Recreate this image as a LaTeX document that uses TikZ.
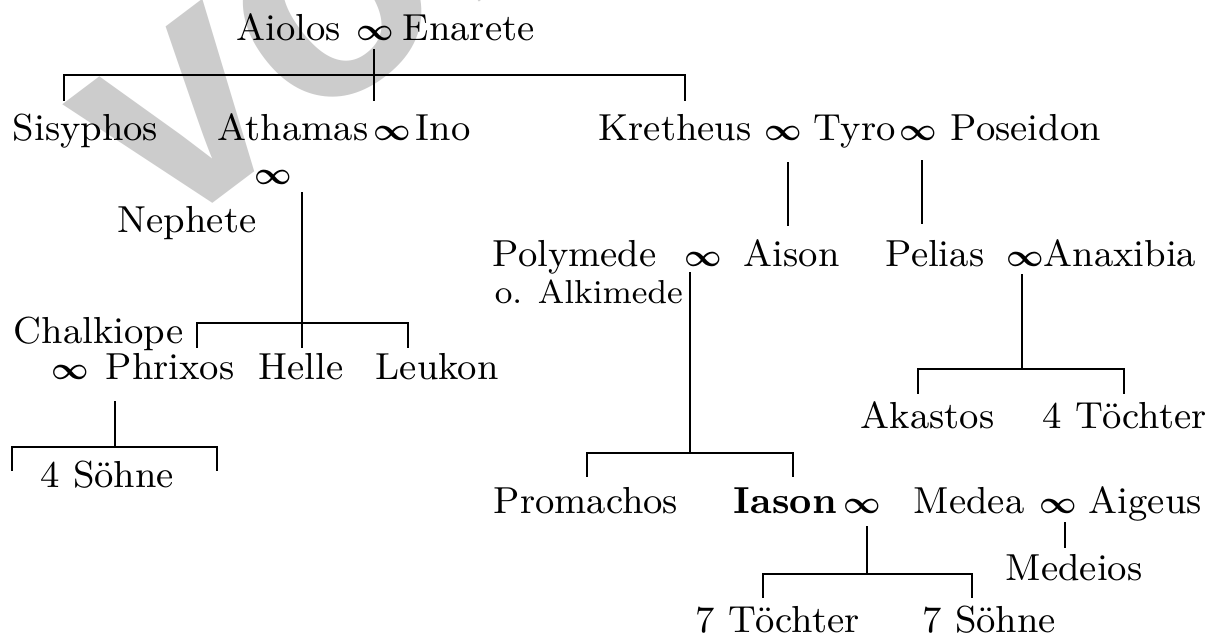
\documentclass[tikz,border=0pt]{standalone}
\usepackage{fontspec}
\newfontfamily\wmfont{Liberation Sans}
\newcommand\mainfs{\fontsize{9.4}{11}\selectfont}
\newcommand\smallfs{\fontsize{8.3}{10}\selectfont}
\newcommand\wedsign{\scalebox{0.88}{\boldmath$\infty$}}
\begin{document}
\begin{tikzpicture}[x=0.25pt,y=-0.25pt,
  person/.style={anchor=base west, inner sep=0pt, font=\mainfs},
  small/.style={anchor=base west, inner sep=0pt, font=\smallfs},
  wed/.style={anchor=base, inner sep=0pt, font=\mainfs},
  link/.style={line width=0.65pt, line cap=rect}]
\useasboundingbox (0,0) rectangle (1217,635);
\fill[white] (0,0) rectangle (1217,635);

% preview stamp in the background
\begin{scope}
  \clip (0,0) rectangle (1217,635);
  \node[anchor=base west, inner sep=0pt, rotate=37, text=black!20,
        font=\wmfont\bfseries\fontsize{80}{80}\selectfont] (stamp) at (163,241) {vorschau};
\end{scope}

% --- names ---
\node[person] (aiolos)   at (236,40) {Aiolos};
\node[wed]    (w1)       at (375,40) {\wedsign};
\node[person] (enarete)  at (402,40) {Enarete};

\node[person] (sisyphos) at (12,140)  {Sisyphos};
\node[person] (athamas)  at (217,140) {Athamas};
\node[wed]    (w2)       at (392,140) {\wedsign};
\node[person] (ino)      at (415,140) {Ino};
\node[person] (kretheus) at (598,140) {Kretheus};
\node[wed]    (w3)       at (783,140) {\wedsign};
\node[person] (tyro)     at (813,140) {Tyro};
\node[wed]    (w4)       at (918,140) {\wedsign};
\node[person] (poseidon) at (950,140) {Poseidon};

\node[wed]    (w5)       at (273,184) {\wedsign};
\node[person] (nephete)  at (117,232) {Nephete};

\node[person] (chalkiope) at (13,343) {Chalkiope};
\node[wed]    (w6)        at (70,379) {\wedsign};
\node[person] (phrixos)   at (105,379) {Phrixos};
\node[person] (helle)     at (258,379) {Helle};
\node[person] (leukon)    at (375,379) {Leukon};
\node[person] (soehneA)   at (40,487)  {4 Söhne};

\node[person] (polymede)  at (492,266)  {Polymede};
\node[wed]    (w7)        at (703,266)  {\wedsign};
\node[person] (aison)     at (743,266)  {Aison};
\node[small]  (alkimede)  at (494,303)  {o. Alkimede};
\node[person] (pelias)    at (885,266)  {Pelias};
\node[wed]    (w8)        at (1025,266) {\wedsign};
\node[person] (anaxibia)  at (1043,266) {Anaxibia};

\node[person] (akastos)   at (860,428)  {Akastos};
\node[person] (toechterA) at (1042,428) {4 Töchter};

\node[person] (promachos) at (493,513)  {Promachos};
\node[person] (iason)     at (733,513)  {\bfseries Iason};
\node[wed]    (w9)        at (862,513)  {\wedsign};
\node[person] (medea)     at (913,513)  {Medea};
\node[wed]    (w10)       at (1058,513) {\wedsign};
\node[person] (aigeus)    at (1088,513) {Aigeus};
\node[person] (medeios)   at (1005,580) {Medeios};

\node[person] (toechterB) at (695,632) {7 Töchter};
\node[person] (soehneB)   at (922,632) {7 Söhne};

% --- descent lines ---
% Aiolos and Enarete
\coordinate (a1) at (374,50);  \coordinate (a2) at (374,100);
\coordinate (a3) at (64,100);  \coordinate (a4) at (64,75);
\coordinate (a5) at (685,75);  \coordinate (a6) at (685,100);
\draw[link] (a1) -- (a2);
\draw[link] (a3) -- (a4) -- (a5) -- (a6);

% Athamas and Nephete
\coordinate (b1) at (302,193); \coordinate (b2) at (302,347);
\coordinate (b3) at (197,347); \coordinate (b4) at (197,323);
\coordinate (b5) at (408,323); \coordinate (b6) at (408,347);
\draw[link] (b1) -- (b2);
\draw[link] (b3) -- (b4) -- (b5) -- (b6);

% Chalkiope and Phrixos
\coordinate (c1) at (115,402); \coordinate (c2) at (115,447);
\coordinate (c3) at (12,470);  \coordinate (c4) at (12,447);
\coordinate (c5) at (217,447); \coordinate (c6) at (217,470);
\draw[link] (c1) -- (c2);
\draw[link] (c3) -- (c4) -- (c5) -- (c6);

% Kretheus and Tyro, Tyro and Poseidon
\coordinate (d1) at (788,163); \coordinate (d2) at (788,225);
\coordinate (e1) at (922,161); \coordinate (e2) at (922,223);
\draw[link] (d1) -- (d2);
\draw[link] (e1) -- (e2);

% Polymede and Aison
\coordinate (f1) at (690,273); \coordinate (f2) at (690,453);
\coordinate (f3) at (587,476); \coordinate (f4) at (587,453);
\coordinate (f5) at (793,453); \coordinate (f6) at (793,476);
\draw[link] (f1) -- (f2);
\draw[link] (f3) -- (f4) -- (f5) -- (f6);

% Pelias and Anaxibia
\coordinate (g1) at (1022,275); \coordinate (g2) at (1022,369);
\coordinate (g3) at (918,393);  \coordinate (g4) at (918,369);
\coordinate (g5) at (1124,369); \coordinate (g6) at (1124,393);
\draw[link] (g1) -- (g2);
\draw[link] (g3) -- (g4) -- (g5) -- (g6);

% Iason and Medea
\coordinate (h1) at (867,527); \coordinate (h2) at (867,574);
\coordinate (h3) at (763,597); \coordinate (h4) at (763,574);
\coordinate (h5) at (972,574); \coordinate (h6) at (972,597);
\draw[link] (h1) -- (h2);
\draw[link] (h3) -- (h4) -- (h5) -- (h6);

% Medea and Aigeus
\coordinate (k1) at (1065,523); \coordinate (k2) at (1065,547);
\draw[link] (k1) -- (k2);
\end{tikzpicture}
\end{document}
